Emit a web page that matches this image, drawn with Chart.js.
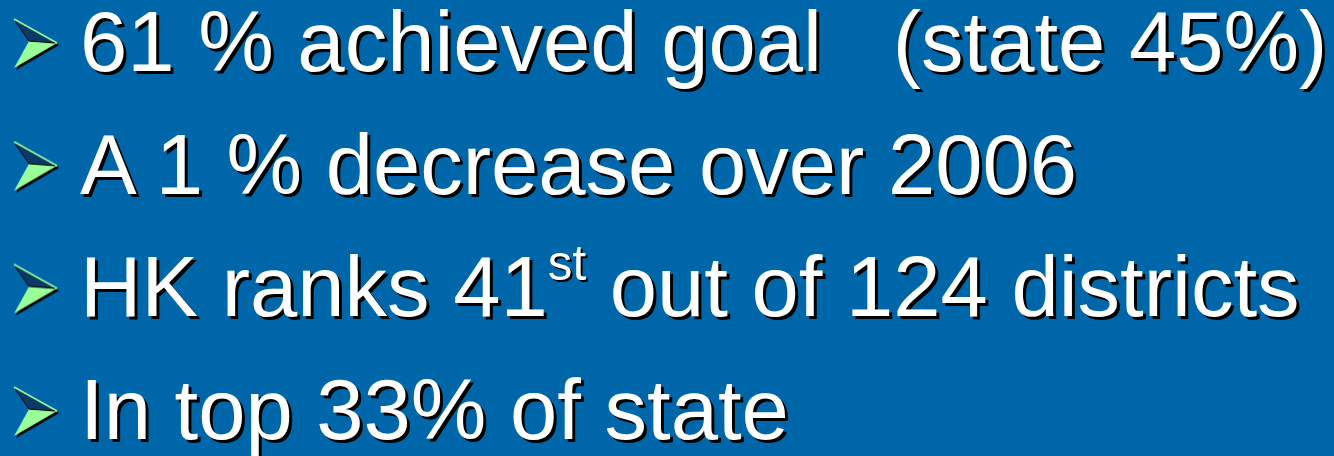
<!DOCTYPE html>
<html>
<head>
<meta charset="utf-8">
<script src="https://cdn.jsdelivr.net/npm/chart.js@4"></script>
<style>
  html, body { margin: 0; padding: 0; background: #0066AA; overflow: hidden; }
  #wrap { position: relative; width: 1334px; height: 456px; background: #0066AA; }
  #c { position: absolute; left: 0; top: 0; }
  .line {
    position: absolute;
    font-family: "Liberation Sans", Arial, sans-serif;
    font-size: 85px;
    line-height: 85px;
    color: #ffffff;
    white-space: pre;
    text-shadow: 3px 3px 0 #000000;
  }
  .line sup { font-size: 0.58em; line-height: 0; vertical-align: 36px; text-shadow: 2px 2px 0 #000000; }
</style>
</head>
<body>
<div id="wrap">
  <canvas id="c" width="1334" height="456"></canvas>
</div>
<script>
// ---- data ----
const bulletLines = [
  '61 % achieved goal   (state 45%)',
  'A 1 % decrease over 2006',
  'HK ranks 41{st} out of 124 districts',
  'In top 33% of state'
];
const bulletRows = [0, 1, 2, 3];

// ---- bullet marker image (arrowhead) ----
function makeArrow() {
  const cv = document.createElement('canvas');
  cv.width = 48; cv.height = 54;
  const g = cv.getContext('2d');
  const tip = [45, 25], tl = [2, 1], bl = [2, 50], notch = [17, 23];
  g.fillStyle = '#000000';
  g.beginPath();
  g.moveTo(tl[0] + 2, tl[1] + 2); g.lineTo(tip[0] + 2, tip[1] + 2);
  g.lineTo(bl[0] + 2, bl[1] + 2); g.lineTo(notch[0] + 2, notch[1] + 2);
  g.closePath(); g.fill();
  g.fillStyle = '#99FF99';
  g.beginPath();
  g.moveTo(notch[0], notch[1]); g.lineTo(tip[0], tip[1]); g.lineTo(bl[0], bl[1]);
  g.closePath(); g.fill();
  g.fillStyle = '#0A3A66';
  g.beginPath();
  g.moveTo(tl[0], tl[1]); g.lineTo(tip[0], tip[1]); g.lineTo(notch[0], notch[1]);
  g.closePath(); g.fill();
  g.strokeStyle = '#99FF99';
  g.lineWidth = 1.5;
  g.beginPath();
  g.moveTo(tl[0], tl[1]); g.lineTo(tip[0], tip[1]);
  g.stroke();
  g.strokeStyle = '#000000';
  g.lineWidth = 1;
  g.beginPath();
  g.moveTo(tl[0] + 1, tl[1] + 2); g.lineTo(notch[0], notch[1]); g.lineTo(tip[0] - 2, tip[1]);
  g.stroke();
  return cv;
}
const arrowImg = makeArrow();

// ---- html text placed from the chart's scales ----
const textEls = bulletLines.map(t => {
  const d = document.createElement('div');
  d.className = 'line';
  d.innerHTML = t.replace(/\{(.*?)\}/g, '<sup>$1</sup>');
  document.getElementById('wrap').appendChild(d);
  return d;
});

const textPlacer = {
  id: 'textPlacer',
  afterDraw(chart) {
    const xs = chart.scales.x, ys = chart.scales.y;
    bulletRows.forEach((r, i) => {
      const px = xs.getPixelForValue(0);
      const py = ys.getPixelForValue(r);
      textEls[i].style.left = (px + 44) + 'px';
      textEls[i].style.top = (py - 46) + 'px';
    });
  }
};

new Chart(document.getElementById('c'), {
  type: 'scatter',
  data: {
    datasets: [{
      data: bulletRows.map(r => ({ x: 0, y: r })),
      pointStyle: arrowImg,
      pointRadius: 24,
      pointHoverRadius: 24
    }]
  },
  options: {
    responsive: false,
    animation: false,
    devicePixelRatio: 1,
    layout: { padding: 0, autoPadding: false },
    plugins: { legend: { display: false }, tooltip: { enabled: false } },
    events: [],
    scales: {
      x: { type: 'linear', display: false, bounds: 'data', min: -0.027, max: 0.973 },
      y: { type: 'linear', display: false, bounds: 'data', reverse: true, min: -0.367, max: 3.35 }
    }
  },
  plugins: [textPlacer]
});
</script>
</body>
</html>
